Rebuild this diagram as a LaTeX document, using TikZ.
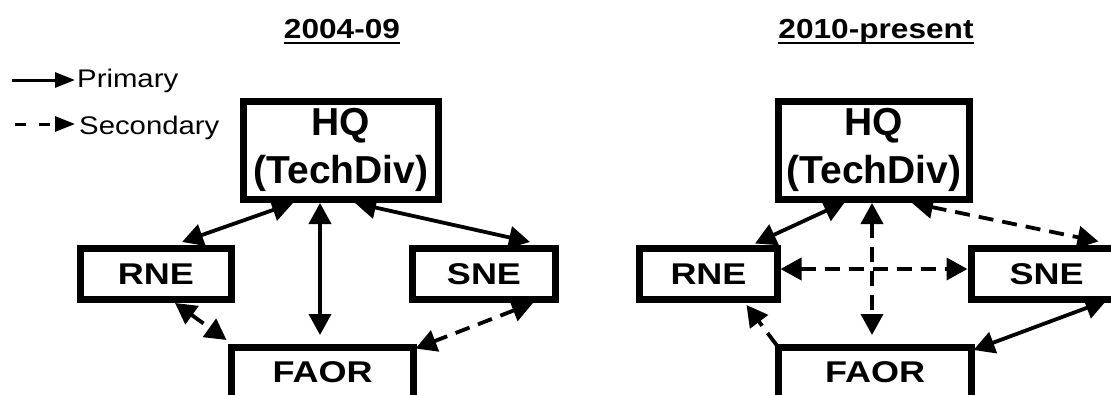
\documentclass[tikz,border=0pt]{standalone}
\usepackage{fontspec}
\setmainfont{Liberation Sans}[FakeStretch=1.15]
\newfontfamily\hqfont{Liberation Sans}
\newfontfamily\boxfont{Liberation Sans}[FakeStretch=1.2]
\usetikzlibrary{arrows.meta, calc, positioning}

\begin{document}
\begin{tikzpicture}[x=1pt, y=1pt]
    \tikzstyle{box} = [rectangle, draw, line width=7pt, inner sep=0pt, outer sep=0pt,
                       align=center, font=\boxfont\fontsize{30}{36}\selectfont\bfseries]
    \tikzstyle{head} = [box, font=\hqfont\fontsize{39}{47.5}\selectfont\bfseries]
    \tikzstyle{title} = [inner sep=0pt, anchor=base, font=\fontsize{27.5}{32}\selectfont\bfseries]
    \tikzstyle{key} = [inner sep=0pt, anchor=base west, font=\fontsize{25.5}{30}\selectfont]
    \tikzstyle{link} = [line width=3.8pt, >={Triangle[length=21pt, width=22pt]}]
    \tikzstyle{soft} = [link, dash pattern=on 15pt off 9pt]
    \tikzstyle{keyline} = [line width=3pt, >={Triangle[length=20pt, width=15pt]}]

    \useasboundingbox (0,0) rectangle (1111,-394);

    % legend
    \node (prim) [key] at (77,-87)  {Primary};
    \node (sec)  [key] at (79,-134) {Secondary};
    \coordinate (primS) at (12,-80);
    \coordinate (secS)  at (15,-124);
    \draw [keyline, ->] (primS) -- ($(prim.base west)+(-2,7)$);
    \draw [keyline, ->, dash pattern=on 11pt off 13pt] (secS) -- ($(sec.base west)+(-4,10)$);

    % 2004-09
    \node (tA)    [title] at (342,-38) {2004-09};
    \draw [line width=2.5pt] ($(tA.base west)+(0,-5)$) -- ($(tA.base east)+(0,-5)$);
    \node (hqA)   [head, minimum width=195, minimum height=98] at (341,-150) {HQ\\(TechDiv)};
    \node (rneA)  [box, minimum width=151, minimum height=51] at (156,-274) {RNE};
    \node (sneA)  [box, minimum width=143, minimum height=51] at (484,-274) {SNE};
    \node (faorA) [box, minimum width=182, text height=35pt, text depth=30pt, anchor=north]
                  at (322.5,-347.5) {FAOR};

    \draw [link, <->] ($(hqA.south)+(-48,-4)$) -- ($(rneA.north)+(26,6.5)$);
    \draw [link, <->] ($(hqA.south)+(-21,-4)$) -- ($(faorA.north)+(-2.5,12.5)$);
    \draw [link, <->] ($(hqA.south)+(14,-4)$) -- ($(sneA.north)+(46,6.5)$);
    \draw [soft, <->] ($(rneA.south)+(19,-3.5)$) -- ($(faorA.north west)+(-5,7.5)$);
    \draw [soft, <->] ($(sneA.south)+(49,-3.5)$) -- ($(faorA.north east)+(2,-1)$);

    % 2010-present
    \node (tB)    [title] at (876,-38) {2010-present};
    \draw [line width=2.5pt] ($(tB.base west)+(0,-5)$) -- ($(tB.base east)+(0,-5)$);
    \node (hqB)   [head, minimum width=191, minimum height=98] at (874,-150) {HQ\\(TechDiv)};
    \node (rneB)  [box, minimum width=138, minimum height=51] at (708.5,-274) {RNE};
    \node (sneB)  [box, minimum width=150, minimum height=51] at (1046.5,-274) {SNE};
    \node (faorB) [box, minimum width=193, text height=35pt, text depth=30pt, anchor=north]
                  at (875,-347.5) {FAOR};

    \draw [link, <->] ($(hqB.south)+(-29,-3)$) -- ($(rneB.north)+(46.5,5)$);
    \draw [soft, <->] ($(hqB.south)+(-2,-4)$) -- ($(faorB.north)+(-3,12.5)$);
    \draw [soft, <->] ($(hqB.south)+(38,-4)$) -- ($(sneB.north)+(52,7)$);
    \draw [soft, <->] ($(rneB.east)+(3,5)$) -- ($(sneB.west)+(-4,5)$);
    \draw [link, <->] ($(sneB.south)+(60,-1)$) -- ($(faorB.north east)+(2,-2.5)$);
    \draw [soft, ->] ($(faorB.north west)+(-2,2.5)$) -- ($(rneB.south)+(38,-5.5)$);
\end{tikzpicture}
\end{document}
